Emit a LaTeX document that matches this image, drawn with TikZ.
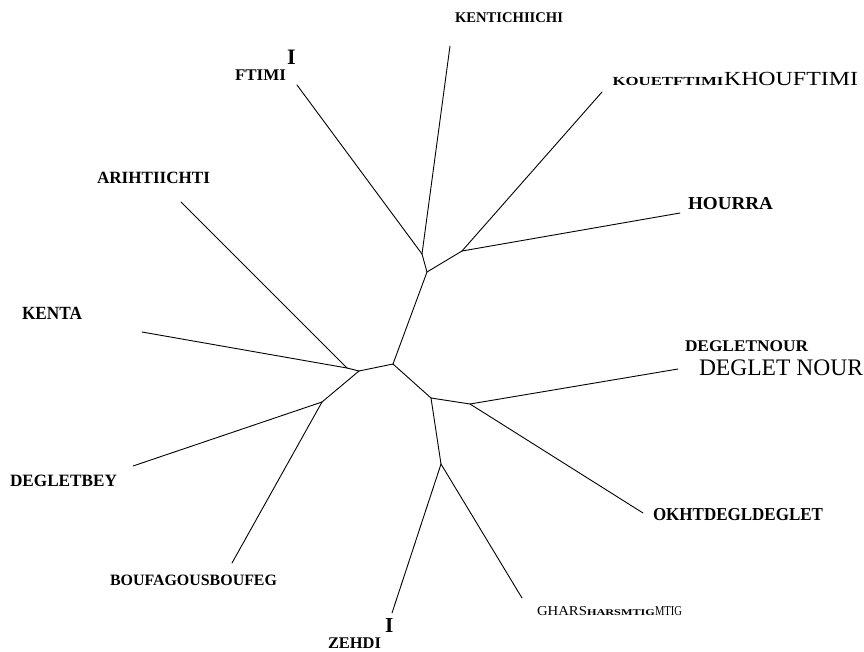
\documentclass[tikz,border=0pt]{standalone}
\usepackage{fontspec}
\setmainfont{Liberation Serif}
\newcommand\fitw[2]{\sbox0{#2}\pgfmathsetmacro\fitratio{#1/\the\wd0}\scalebox{\fitratio}[1]{\usebox0}}
\newcommand\bsz[1]{\fontsize{#1}{#1}\selectfont\bfseries}
\newcommand\rsz[1]{\fontsize{#1}{#1}\selectfont}
\tikzset{
  edge/.style={line width=0.9pt, line cap=round, line join=round},
  lab/.style={inner sep=0pt, outer sep=0pt, anchor=base west}
}
\begin{document}
\begin{tikzpicture}[x=1pt,y=-1pt]
\useasboundingbox[fill=white] (0,0) rectangle (864,651);
% internal nodes
\coordinate (A) at (422,254);
\coordinate (B) at (427,272);
\coordinate (C) at (462,251);
\coordinate (D) at (393,364);
\coordinate (E) at (359,371);
\coordinate (F) at (347,368);
\coordinate (G) at (322,402);
\coordinate (H) at (431,398);
\coordinate (I) at (470,404);
\coordinate (J) at (441,464);
% leaf ends
\coordinate (lkenti) at (450,46);
\coordinate (lftimi) at (297,85);
\coordinate (lkouet) at (602,92);
\coordinate (lhourra) at (680,213);
\coordinate (larih) at (181,202);
\coordinate (lkenta) at (142,332);
\coordinate (lbey) at (133,466);
\coordinate (lbouf) at (232,563);
\coordinate (lzehdi) at (392,613);
\coordinate (lghars) at (522,598);
\coordinate (lnour) at (678,369);
\coordinate (lokht) at (643,513);
% edges
\draw[edge] (lftimi) -- (A);
\draw[edge] (lkenti) -- (A);
\draw[edge] (A) -- (B);
\draw[edge] (B) -- (C);
\draw[edge] (C) -- (lkouet);
\draw[edge] (C) -- (lhourra);
\draw[edge] (B) -- (D);
\draw[edge] (D) -- (E);
\draw[edge] (E) -- (F);
\draw[edge] (F) -- (larih);
\draw[edge] (F) -- (lkenta);
\draw[edge] (E) -- (G);
\draw[edge] (G) -- (lbey);
\draw[edge] (G) -- (lbouf);
\draw[edge] (D) -- (H);
\draw[edge] (H) -- (I);
\draw[edge] (I) -- (lnour);
\draw[edge] (I) -- (lokht);
\draw[edge] (H) -- (J);
\draw[edge] (J) -- (lzehdi);
\draw[edge] (J) -- (lghars);
% labels
\node[lab] (tkenti) at (455,22.7) {\fitw{108}{\bsz{14.8}KENTICHIICHI}};
\node[lab] (tftimi) at (235,80) {\fitw{51}{\bsz{16.3}FTIMI}};
\node[lab] (tftimiI) at (287,64) {\bsz{22}I};
\node[lab] (tkouet) at (612.5,85) {\fitw{111}{\bsz{12.3}KOUETFTIMI}};
\node[lab] (tkhouf) at (724,85) {\fitw{134}{\rsz{20}KHOUFTIMI}};
\node[lab] (thourra) at (688,209) {\fitw{85}{\bsz{18.2}HOURRA}};
\node[lab] (tarih) at (97,183.3) {\fitw{113}{\bsz{17.2}ARIHTIICHTI}};
\node[lab] (tkenta) at (22,319.3) {\fitw{60}{\bsz{18.6}KENTA}};
\node[lab] (tbey) at (10,486.7) {\fitw{107}{\bsz{17.3}DEGLETBEY}};
\node[lab] (tbouf) at (110,585.7) {\fitw{167}{\bsz{15.8}BOUFAGOUSBOUFEG}};
\node[lab] (tzehdi) at (328,648.3) {\fitw{53}{\bsz{16.3}ZEHDI}};
\node[lab] (tzehdiI) at (385,632.7) {\bsz{21.3}I};
\node[lab] (tghars) at (537,615.7) {\fitw{50}{\rsz{13.6}GHARS}\fitw{68}{\bsz{8.9}HARSMTIG}\fitw{27}{\rsz{13.6}MTIG}};
\node[lab] (tnour) at (685,351.7) {\fitw{123}{\bsz{16.3}DEGLETNOUR}};
\node[lab] (tnour2) at (699,375) {\fitw{164}{\rsz{23.7}DEGLET NOUR}};
\node[lab] (tokht) at (653,520.7) {\fitw{170}{\bsz{18.2}OKHTDEGLDEGLET}};
\end{tikzpicture}
\end{document}
